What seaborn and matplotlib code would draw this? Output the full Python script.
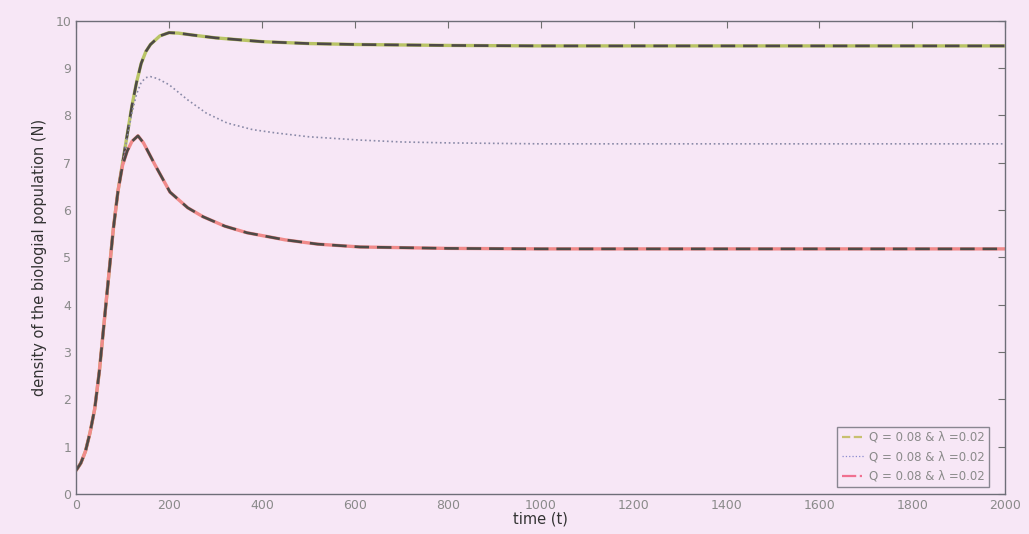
import numpy as np
import pandas as pd
import seaborn as sns
import matplotlib.pyplot as plt
from matplotlib.lines import Line2D

# values
t_high = [0, 10, 20, 30, 40, 50, 60, 70, 80, 90, 100, 110, 120, 130, 140, 150, 160, 180,
          200, 220, 250, 300, 350, 400, 500, 600, 700, 800, 1000, 1200, 1500, 2000]
n_high = [0.5, 0.65, 0.9, 1.3, 1.8, 2.6, 3.6, 4.6, 5.6, 6.4, 7.0, 7.6, 8.2, 8.7, 9.1, 9.35, 9.5, 9.68,
          9.75, 9.74, 9.7, 9.64, 9.6, 9.56, 9.52, 9.5, 9.49, 9.48, 9.47, 9.47, 9.47, 9.47]

t_mid = [0, 10, 20, 30, 40, 50, 60, 70, 80, 90, 100, 110, 120, 130, 140, 150, 160, 175,
         200, 240, 280, 325, 380, 430, 500, 610, 700, 800, 1000, 1500, 2000]
n_mid = [0.5, 0.65, 0.9, 1.3, 1.8, 2.6, 3.6, 4.6, 5.6, 6.4, 7.0, 7.55, 8.05, 8.45, 8.7, 8.8, 8.82, 8.78,
         8.65, 8.33, 8.05, 7.84, 7.7, 7.63, 7.55, 7.48, 7.44, 7.42, 7.4, 7.4, 7.4]

t_low = [0, 10, 20, 30, 40, 50, 60, 70, 80, 90, 100, 110, 120, 133, 145, 170, 202, 240,
         273, 320, 368, 450, 520, 611, 800, 1000, 1500, 2000]
n_low = [0.5, 0.65, 0.9, 1.3, 1.8, 2.6, 3.6, 4.6, 5.6, 6.4, 6.95, 7.25, 7.45, 7.57, 7.42, 6.95, 6.38, 6.05,
         5.86, 5.66, 5.52, 5.37, 5.28, 5.22, 5.19, 5.18, 5.18, 5.18]

labels = ['Q = 0.08 & \u03bb =0.02', 'Q = 0.08 & \u03bb =0.02', 'Q = 0.08 & \u03bb =0.02']
x_ticks = [0, 200, 400, 600, 800, 1000, 1200, 1400, 1600, 1800, 2000]
y_ticks = [0, 1, 2, 3, 4, 5, 6, 7, 8, 9, 10]

bg = '#f7e7f6'
sns.set_style('white')
plt.rcParams['font.family'] = ['DejaVu Sans']

fig = plt.figure(figsize=(10.29, 5.34), dpi=100, facecolor=bg)
ax = fig.add_axes([0.074, 0.075, 0.903, 0.886])
ax.set_facecolor(bg)

dark = '#4e4a46'

# top curve: yellow-green line under dark dashes
sns.lineplot(x=t_high, y=n_high, ax=ax, color='#b9c466', lw=2.4, legend=False)
sns.lineplot(x=t_high, y=n_high, ax=ax, color=dark, lw=1.9, legend=False)
ax.lines[-1].set_dashes((5.5, 3))

# middle curve: dotted grey-blue
sns.lineplot(x=t_mid, y=n_mid, ax=ax, color='#8a8aa8', lw=1.2, legend=False)
ax.lines[-1].set_linestyle(':')

# bottom curve: red line under dark dashes
sns.lineplot(x=t_low, y=n_low, ax=ax, color='#f08a8a', lw=2.4, legend=False)
sns.lineplot(x=t_low, y=n_low, ax=ax, color=dark, lw=1.9, legend=False)
ax.lines[-1].set_dashes((5.5, 3))

ax.set_xlim(0, 2000)
ax.set_ylim(0, 10)
ax.set_xticks(x_ticks)
ax.set_yticks(y_ticks)
ax.tick_params(direction='in', top=True, right=True, length=5, width=0.8,
               colors='#707070', labelsize=9, labelcolor='#8a8a8a')
for s in ax.spines.values():
    s.set_color('#6e6e78')
    s.set_linewidth(1.0)

ax.set_xlabel('time (t)', fontsize=10.5, color='#333333', labelpad=0)
ax.set_ylabel('density of the biologial population (N)', fontsize=10.5, color='#333333', labelpad=6)

handles = [Line2D([], [], color='#c8c070', lw=1.6, ls='--'),
           Line2D([], [], color='#8a8ad0', lw=0.9, ls=':'),
           Line2D([], [], color='#f07090', lw=1.6, ls='-.')]
leg = ax.legend(handles, labels, loc='lower right', fontsize=8.5, frameon=True,
                fancybox=False, handlelength=2.0, handletextpad=0.3, borderpad=0.35,
                labelspacing=0.55, borderaxespad=0, bbox_to_anchor=(0.982, 0.015))
leg.get_frame().set_edgecolor('#6e6e78')
leg.get_frame().set_facecolor(bg)
for txt in leg.get_texts():
    txt.set_color('#8a8a8a')

fig.savefig('out.png', dpi=100, facecolor=bg)
